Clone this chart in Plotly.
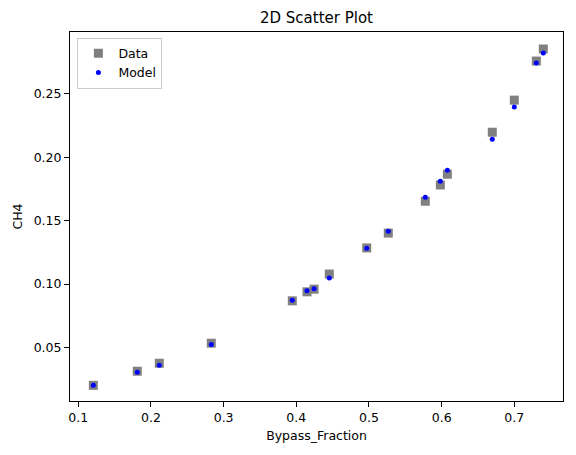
import plotly.graph_objects as go

# measured bypass fraction vs CH4
bypass_fraction = [0.1207, 0.1812, 0.2115, 0.2830, 0.3945, 0.4147, 0.4245, 0.4454, 0.4969,
                   0.5266, 0.5775, 0.5982, 0.6079, 0.6697, 0.7000, 0.7303, 0.7399]
ch4_data = [0.0202, 0.0313, 0.0376, 0.0534, 0.0868, 0.0939, 0.0960, 0.1079, 0.1285,
            0.1402, 0.1653, 0.1781, 0.1866, 0.2197, 0.2450, 0.2758, 0.2853]
ch4_model = [0.0202, 0.0305, 0.0361, 0.0524, 0.0873, 0.0947, 0.0963, 0.1047, 0.1282,
             0.1416, 0.1684, 0.1810, 0.1897, 0.2142, 0.2395, 0.2742, 0.2821]

x_ticks = [0.1, 0.2, 0.3, 0.4, 0.5, 0.6, 0.7]
y_ticks = [0.05, 0.10, 0.15, 0.20, 0.25]
y_tick_labels = ["0.05", "0.10", "0.15", "0.20", "0.25"]

font = "DejaVu Sans"

# page body has an 8px margin, so the figure is sized to fit inside it
W, H = 568, 447
L, R, T, B = 62, 13, 24, 54

fig = go.Figure()

fig.add_trace(
    go.Scatter(
        x=bypass_fraction,
        y=ch4_data,
        mode="markers",
        name="Data",
        marker={"symbol": "square", "size": 9, "color": "gray",
                "line": {"width": 0}},
    )
)

fig.add_trace(
    go.Scatter(
        x=bypass_fraction,
        y=ch4_model,
        mode="markers",
        name="Model",
        marker={"symbol": "circle", "size": 5, "color": "blue",
                "line": {"width": 0}},
    )
)

axis_common = {
    "showline": True,
    "linecolor": "black",
    "linewidth": 1,
    "mirror": True,
    "ticks": "outside",
    "ticklen": 5,
    "tickcolor": "black",
    "showgrid": False,
    "zeroline": False,
    "automargin": False,
    "tickfont": {"family": font, "size": 12.5, "color": "black"},
}

fig.update_layout(
    width=W,
    height=H,
    margin={"l": L, "r": R, "t": T, "b": B},
    paper_bgcolor="white",
    plot_bgcolor="white",
    font={"family": font, "color": "black"},
    title={
        "text": "2D Scatter Plot",
        "x": (L + W - R) / 2 / W,
        "xanchor": "center",
        "y": 1 - 10 / H,
        "yanchor": "middle",
        "font": {"family": font, "size": 15, "color": "black"},
    },
    xaxis={
        **axis_common,
        "range": [0.0886, 0.767],
        "tickvals": x_ticks,
        "title": {"text": "Bypass_Fraction", "font": {"family": font, "size": 12.5},
                  "standoff": 7},
    },
    yaxis={
        **axis_common,
        "range": [0.00784, 0.2987],
        "tickvals": y_ticks,
        "ticktext": y_tick_labels,
        "title": {"text": "CH4", "font": {"family": font, "size": 12.5},
                  "standoff": 8},
    },
    legend={
        "x": 0.015,
        "y": 0.985,
        "xanchor": "left",
        "yanchor": "top",
        "bgcolor": "white",
        "bordercolor": "#cccccc",
        "borderwidth": 1,
        "font": {"family": font, "size": 12.5, "color": "black"},
    },
    showlegend=True,
)

fig.write_html("out.html")
